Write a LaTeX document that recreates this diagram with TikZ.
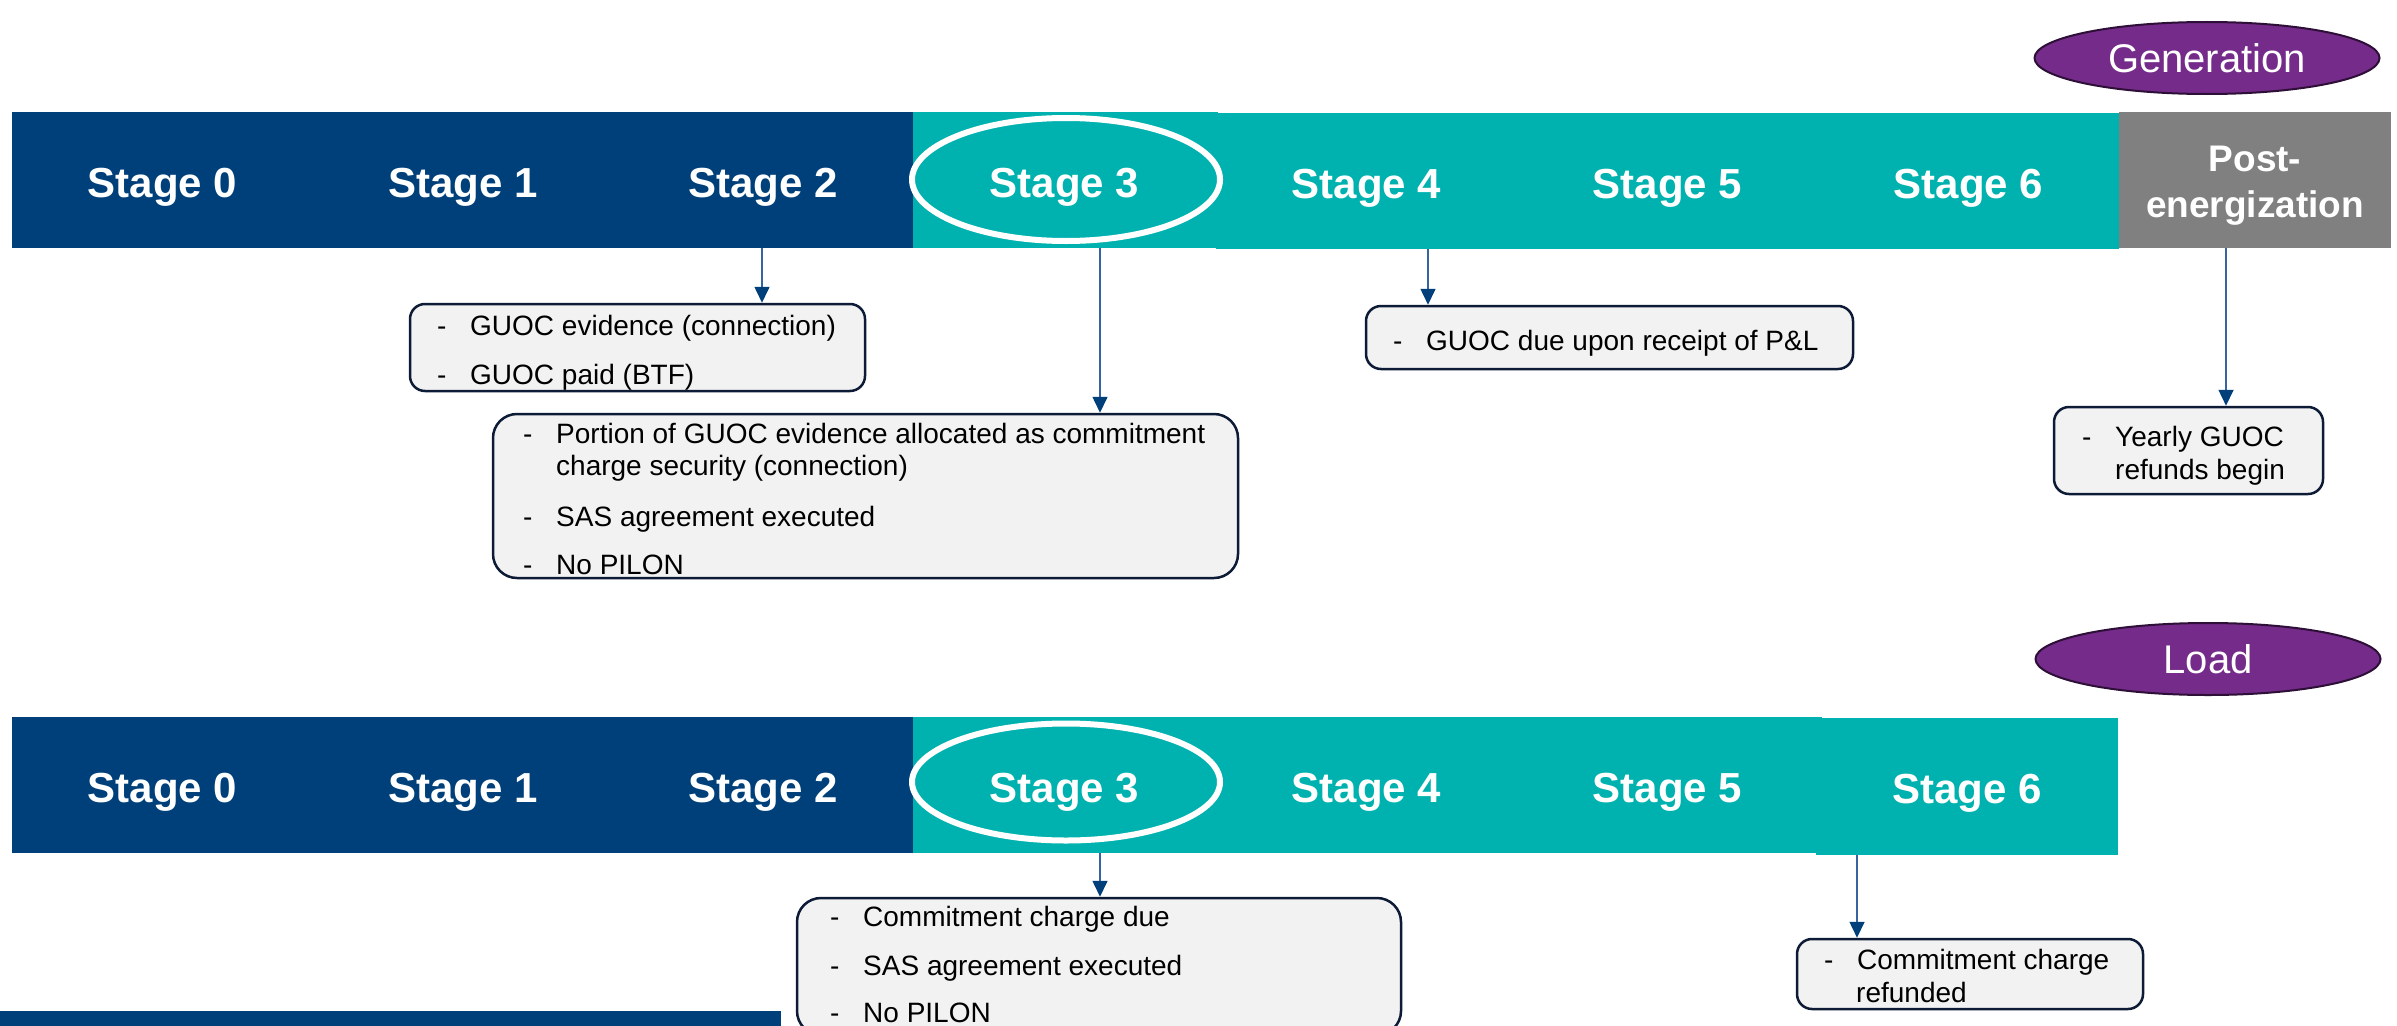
\documentclass[tikz,border=0pt]{standalone}
\usepackage{fontspec}
\setmainfont{Liberation Sans}
\usetikzlibrary{arrows.meta,shapes.geometric}
\definecolor{navyc}{RGB}{0,64,122}
\definecolor{tealc}{RGB}{0,178,175}
\definecolor{grayc}{RGB}{128,128,128}
\definecolor{purplec}{RGB}{117,43,138}
\definecolor{ovalborder}{RGB}{45,15,55}
\definecolor{boxfill}{RGB}{242,242,242}
\definecolor{boxborder}{RGB}{13,27,55}
\definecolor{linec}{RGB}{55,100,158}
\newcommand{\bl}{\makebox[33pt][l]{-}}
\begin{document}
\begin{tikzpicture}[x=1pt,y=-1pt,
 cell/.style={rectangle,inner sep=0pt,minimum height=136pt,text=white,text height=34pt,text depth=0pt,font=\fontsize{42}{46}\selectfont\bfseries},
 ring/.style={ellipse,draw=white,line width=6pt,inner sep=0pt},
 oval/.style={ellipse,draw=ovalborder,line width=2pt,fill=purplec,text=white,font=\fontsize{40}{44}\selectfont,minimum width=345pt,minimum height=72pt,inner sep=0pt},
 infobox/.style={rectangle,draw=boxborder,line width=2.5pt,fill=boxfill,rounded corners=15pt,inner sep=0pt},
 txt/.style={inner sep=0pt,anchor=base west,font=\fontsize{28}{34}\selectfont,text=black},
 arr/.style={draw=linec,line width=1.6pt,-{Triangle[length=16pt,width=15pt,color=navyc]}}
]
\useasboundingbox (0,0) rectangle (2397,1025);
\fill[white] (0,0) rectangle (2397,1025);

% ---------- Generation row ----------
\node[oval] (gen) at (2207,58) {Generation};
\fill[navyc] (12,112) rectangle (913,248);
\fill[tealc] (913,112) rectangle (1218,248);
\fill[tealc] (1216,113) rectangle (2119,249);
\node[cell,fill=navyc,minimum width=301pt] (g0) at (162.5,180) {Stage 0};
\node[cell,fill=navyc,minimum width=300pt] (g1) at (463,180) {Stage 1};
\node[cell,fill=navyc,minimum width=300pt] (g2) at (763,180) {Stage 2};
\node[cell,fill=tealc,minimum width=303pt] (g3) at (1064.5,180) {Stage 3};
\node[cell,fill=tealc,minimum width=301pt] (g4) at (1366.5,181) {Stage 4};
\node[cell,fill=tealc,minimum width=301pt] (g5) at (1667.5,181) {Stage 5};
\node[cell,fill=tealc,minimum width=301pt] (g6) at (1968.5,181) {Stage 6};
\node[rectangle,inner sep=0pt,fill=grayc,minimum width=272pt,minimum height=136pt] (gp) at (2255,180) {};
\node[inner sep=0pt,text=white,align=center,font=\fontsize{37}{46}\selectfont\bfseries] (gplabel) at (2255,186) {Post-\\energization};
\node[ring,minimum width=308pt,minimum height=123pt] (gring) at (1066,179.5) {};

\node[infobox,minimum width=455pt,minimum height=87pt] (b1) at (637.5,347.5) {};
\node[txt] (b1a) at (437,335) {\bl GUOC evidence (connection)};
\node[txt] (b1b) at (437,384) {\bl GUOC paid (BTF)};

\node[infobox,rounded corners=24pt,minimum width=745pt,minimum height=164pt] (b2) at (865.5,496) {};
\node[txt] (b2a) at (523,443) {\bl Portion of GUOC evidence allocated as commitment};
\node[txt] (b2b) at (556,475) {charge security (connection)};
\node[txt] (b2c) at (523,526) {\bl SAS agreement executed};
\node[txt] (b2d) at (523,574) {\bl No PILON};

\node[infobox,minimum width=487pt,minimum height=63pt] (b3) at (1609.5,337.5) {};
\node[txt] (b3a) at (1393,350) {\bl GUOC due upon receipt of P\&L};

\node[infobox,minimum width=269pt,minimum height=87pt] (b4) at (2188.5,450.5) {};
\node[txt] (b4a) at (2082,446) {\bl Yearly GUOC};
\node[txt] (b4b) at (2115,479) {refunds begin};

\coordinate (x2) at (762,0);
\coordinate (x3) at (1100,0);
\coordinate (x4) at (1428,0);
\coordinate (xp) at (2226,0);
\draw[arr] (g2.south -| x2) -- (b1.north -| x2);
\draw[arr] (g3.south -| x3) -- (b2.north -| x3);
\draw[arr] (g4.south -| x4) -- (b3.north -| x4);
\draw[arr] (gp.south -| xp) -- (b4.north -| xp);

% ---------- Load row ----------
\node[oval] (load) at (2208,659) {Load};
\fill[navyc] (12,717) rectangle (913,853);
\fill[tealc] (913,717) rectangle (1822,853);
\node[cell,fill=navyc,minimum width=301pt] (l0) at (162.5,785) {Stage 0};
\node[cell,fill=navyc,minimum width=300pt] (l1) at (463,785) {Stage 1};
\node[cell,fill=navyc,minimum width=300pt] (l2) at (763,785) {Stage 2};
\node[cell,fill=tealc,minimum width=303pt] (l3) at (1064.5,785) {Stage 3};
\node[cell,fill=tealc,minimum width=301pt] (l4) at (1366.5,785) {Stage 4};
\node[cell,fill=tealc,minimum width=301pt] (l5) at (1667.5,785) {Stage 5};
\node[cell,fill=tealc,minimum width=302pt,minimum height=137pt] (l6) at (1967,786.5) {Stage 6};
\node[ring,minimum width=308pt,minimum height=117pt] (lring) at (1066,782) {};

\node[infobox,rounded corners=24pt,minimum width=604pt,minimum height=137pt] (b5) at (1099,966.5) {};
\node[txt] (b5a) at (830,926) {\bl Commitment charge due};
\node[txt] (b5b) at (830,975) {\bl SAS agreement executed};
\node[txt] (b5c) at (830,1022) {\bl No PILON};

\node[infobox,minimum width=346pt,minimum height=70pt] (b6) at (1970,974) {};
\node[txt] (b6a) at (1824,969) {\bl Commitment charge};
\node[txt] (b6b) at (1856,1002) {refunded};

\coordinate (y3) at (1100,0);
\coordinate (y6) at (1857,0);
\draw[arr] (l3.south -| y3) -- (b5.north -| y3);
\draw[arr] (l6.south -| y6) -- (b6.north -| y6);

% partial bar at bottom edge
\fill[navyc] (0,1011) rectangle (781,1030);
\end{tikzpicture}
\end{document}
